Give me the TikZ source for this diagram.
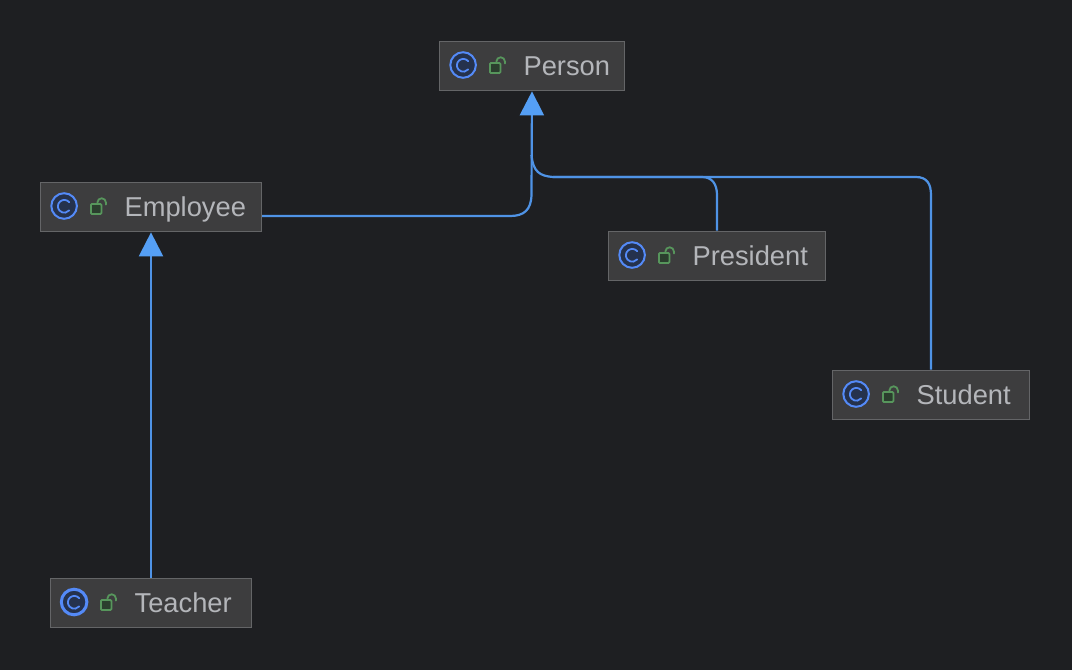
\documentclass[tikz,border=0pt]{standalone}
\usepackage{fontspec}
\setmainfont{Liberation Sans}
\usetikzlibrary{arrows.meta}
\definecolor{canvasbg}{HTML}{1E1F22}
\definecolor{boxfill}{HTML}{3D3D3E}
\definecolor{boxline}{HTML}{646567}
\definecolor{labeltext}{HTML}{B4B6BA}
\definecolor{iconblue}{HTML}{548AF7}
\definecolor{iconfill}{HTML}{25324D}
\definecolor{lockgreen}{HTML}{57965C}
\definecolor{lockfill}{HTML}{2B3E2E}
\definecolor{linkblue}{HTML}{4F93E6}
\definecolor{tipblue}{HTML}{559FF5}
\tikzset{
    classbox/.style={draw=boxline,fill=boxfill,line width=1.2pt,inner sep=0pt,minimum height=49.5pt},
    classlabel/.style={text=labeltext,font=\fontsize{27.3}{27.3}\selectfont,inner sep=0pt,anchor=base west},
    link/.style={draw=linkblue,line width=2.2pt},
    extends/.style={link,-{Triangle[width=24pt,length=24pt,color=tipblue]}},
    pics/classicon/.style={code={
        % class circle
        \draw[iconblue,fill=iconfill,line width=#1] (24.2,-1) circle (12.8);
        \draw[iconblue,line width=1.8pt,line cap=round] (29.3,-4.8) arc (-40:-320:6.4);
        % open lock
        \draw[lockgreen,fill=lockfill,line width=1.8pt,rounded corners=1pt] (51,-3) rectangle (61.5,7);
        \draw[lockgreen,line width=1.8pt,line cap=round] (57.5,-3) -- (57.5,-4.5) arc (180:360:4.25) -- (66,-2.5);
    }}
}
\begin{document}
\begin{tikzpicture}[x=1pt,y=-1pt]
    \useasboundingbox[fill=canvasbg] (0,0) rectangle (1072,670);
    % Classes
    \node[classbox,minimum width=185pt] (person) at (532,66) {};
    \node[classbox,minimum width=221pt] (employee) at (151,207) {};
    \node[classbox,minimum width=217pt] (president) at (717,256) {};
    \node[classbox,minimum width=197pt] (student) at (931,395) {};
    \node[classbox,minimum width=201pt] (teacher) at (151,603) {};
    \pic at (person.west) {classicon=2pt};
    \pic at (employee.west) {classicon=2pt};
    \pic at (president.west) {classicon=2pt};
    \pic at (student.west) {classicon=2pt};
    \pic at (teacher.west) {classicon=3pt};
    \node[classlabel] (personlabel) at ([xshift=84.5pt,yshift=-9.5pt]person.west) {Person};
    \node[classlabel] (employeelabel) at ([xshift=84.5pt,yshift=-9.5pt]employee.west) {Employee};
    \node[classlabel] (presidentlabel) at ([xshift=84.5pt,yshift=-9.5pt]president.west) {President};
    \node[classlabel] (studentlabel) at ([xshift=84.5pt,yshift=-9.5pt]student.west) {Student};
    \node[classlabel] (teacherlabel) at ([xshift=84.5pt,yshift=-9.5pt]teacher.west) {Teacher};
    % Inheritance
    \draw[extends] (teacher.north) -- (employee.south);
    \draw[extends] ([yshift=-9pt]employee.east) -- (510,216) .. controls (524,216) and (531,210) .. (531.5,195) -- (person.south);
    \draw[link] (president.north) -- (717,195) .. controls (717,184) and (712,177) .. (702,177) -- (553,177) .. controls (540,176) and (533,172) .. (531.5,155);
    \draw[link] (student.north) -- (931,195) .. controls (931,184) and (927,177) .. (916,177) -- (553,177);
\end{tikzpicture}
\end{document}
